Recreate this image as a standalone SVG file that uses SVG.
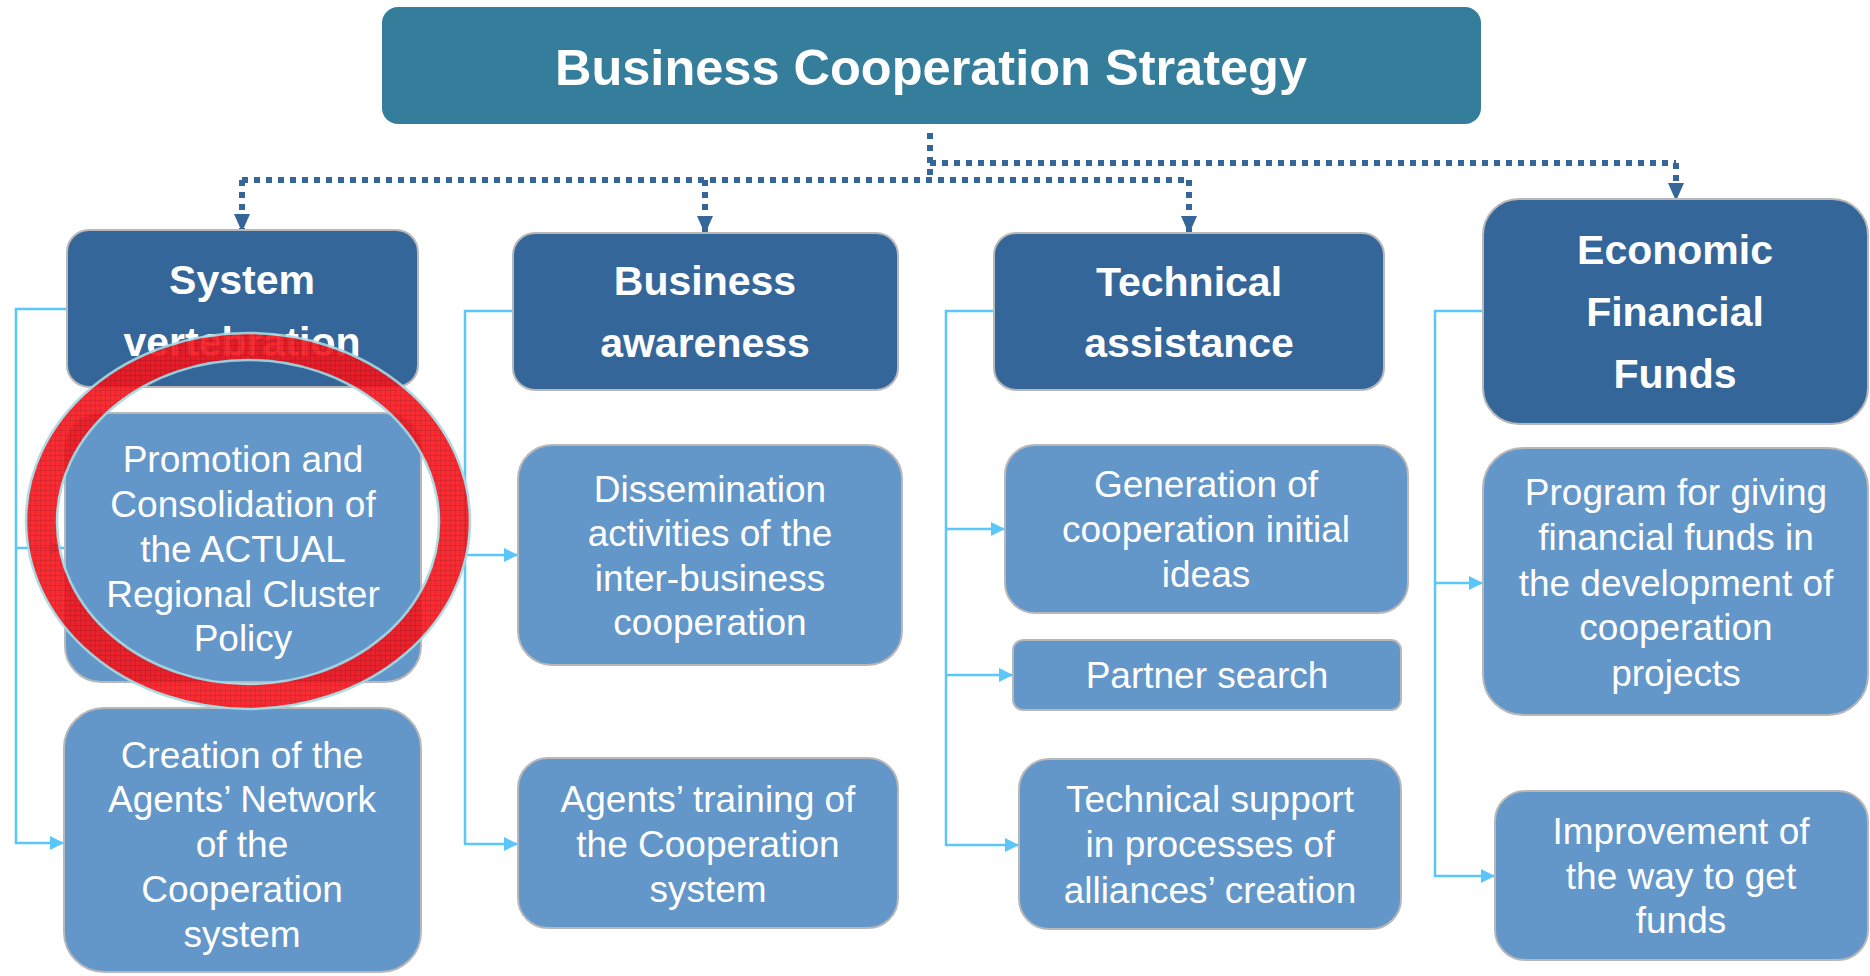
<svg xmlns="http://www.w3.org/2000/svg" width="1870" height="976" viewBox="0 0 1870 976">
<style>
.title{fill:#347E9C;}
.head{fill:#356699;stroke:#B8B8B8;stroke-width:2;}
.item{fill:#6497C9;stroke:#B8B8B8;stroke-width:2;}
.tt{font-family:"Liberation Sans",Arial,sans-serif;font-weight:bold;font-size:50.5px;fill:#fff;text-anchor:middle;}
.th{font-family:"Liberation Sans",Arial,sans-serif;font-weight:bold;font-size:41px;fill:#fff;text-anchor:middle;}
.ti{font-family:"Liberation Sans",Arial,sans-serif;font-size:37px;fill:#fff;text-anchor:middle;}
.dot{fill:none;stroke:#356699;stroke-width:6;stroke-dasharray:6 6;}
.lc{fill:none;stroke:#5BC6FA;stroke-width:2.5;}
</style>
<defs>
<marker id="ad" markerUnits="userSpaceOnUse" markerWidth="18" markerHeight="20" refX="16" refY="8" orient="auto" viewBox="0 0 18 16">
<path d="M0,0 L18,8 L0,16 Z" fill="#356699"/>
</marker>
<marker id="al" markerUnits="userSpaceOnUse" markerWidth="14" markerHeight="14" refX="14" refY="7" orient="auto" viewBox="0 0 14 14">
<path d="M0,0 L14,7 L0,14 Z" fill="#5BC6FA"/>
</marker>
<pattern id="grid" width="5" height="5" patternUnits="userSpaceOnUse">
<rect width="5" height="5" fill="#F8161C"/>
<path d="M0,0.5 H5 M0.5,0 V5" stroke="#D01218" stroke-width="0.8"/>
</pattern>
</defs>

<g id="connectors">
<path class="dot" d="M930,133 V180"/>
<path class="dot" d="M930,163 H1676"/>
<path class="dot" d="M242,180 H1189"/>
<path class="dot" d="M242,180 V230" marker-end="url(#ad)"/>
<path class="dot" d="M705,180 V232" marker-end="url(#ad)"/>
<path class="dot" d="M1189,180 V232" marker-end="url(#ad)"/>
<path class="dot" d="M1676,163 V199" marker-end="url(#ad)"/>

<path class="lc" d="M67,309 H16 V843 H64" marker-end="url(#al)"/>
<path class="lc" d="M16,548 H64" marker-end="url(#al)"/>
<path class="lc" d="M513,311 H465 V844 H518" marker-end="url(#al)"/>
<path class="lc" d="M465,555 H518" marker-end="url(#al)"/>
<path class="lc" d="M994,311 H946 V845 H1019" marker-end="url(#al)"/>
<path class="lc" d="M946,529 H1005" marker-end="url(#al)"/>
<path class="lc" d="M946,675 H1013" marker-end="url(#al)"/>
<path class="lc" d="M1483,311 H1435 V876 H1495" marker-end="url(#al)"/>
<path class="lc" d="M1435,583 H1483" marker-end="url(#al)"/>
</g>

<g id="strategy">
<rect class="title" x="382" y="7" width="1099" height="117" rx="16"/>
<text class="tt" x="931" y="85">Business Cooperation Strategy</text>
</g>

<g id="system-vertebration">
<rect class="head" x="67" y="230" width="351" height="157" rx="22"/>
<text class="th" x="242" y="294">System</text>
<text class="th" x="242" y="356">vertebration</text>
</g>
<g id="promotion">
<rect class="item" x="65" y="413" width="356" height="269" rx="36"/>
<text class="ti" x="243" y="472">Promotion and</text>
<text class="ti" x="243" y="517">Consolidation of</text>
<text class="ti" x="243" y="562">the ACTUAL</text>
<text class="ti" x="243" y="607">Regional Cluster</text>
<text class="ti" x="243" y="651">Policy</text>
</g>
<g id="creation">
<rect class="item" x="64" y="708" width="357" height="264" rx="40"/>
<text class="ti" x="242" y="768">Creation of the</text>
<text class="ti" x="242" y="812">Agents’ Network</text>
<text class="ti" x="242" y="857">of the</text>
<text class="ti" x="242" y="902">Cooperation</text>
<text class="ti" x="242" y="947">system</text>
</g>

<g id="business-awareness">
<rect class="head" x="513" y="233" width="385" height="157" rx="22"/>
<text class="th" x="705" y="295">Business</text>
<text class="th" x="705" y="357">awareness</text>
</g>
<g id="dissemination">
<rect class="item" x="518" y="445" width="384" height="220" rx="34"/>
<text class="ti" x="710" y="502">Dissemination</text>
<text class="ti" x="710" y="546">activities of the</text>
<text class="ti" x="710" y="591">inter-business</text>
<text class="ti" x="710" y="635">cooperation</text>
</g>
<g id="agents-training">
<rect class="item" x="518" y="758" width="380" height="170" rx="30"/>
<text class="ti" x="708" y="812">Agents’ training of</text>
<text class="ti" x="708" y="857">the Cooperation</text>
<text class="ti" x="708" y="902">system</text>
</g>

<g id="technical-assistance">
<rect class="head" x="994" y="233" width="390" height="157" rx="22"/>
<text class="th" x="1189" y="296">Technical</text>
<text class="th" x="1189" y="357">assistance</text>
</g>
<g id="generation">
<rect class="item" x="1005" y="445" width="403" height="168" rx="30"/>
<text class="ti" x="1206" y="497">Generation of</text>
<text class="ti" x="1206" y="542">cooperation initial</text>
<text class="ti" x="1206" y="587">ideas</text>
</g>
<g id="partner-search">
<rect class="item" x="1013" y="640" width="388" height="70" rx="10"/>
<text class="ti" x="1207" y="688">Partner search</text>
</g>
<g id="technical-support">
<rect class="item" x="1019" y="759" width="382" height="170" rx="30"/>
<text class="ti" x="1210" y="812">Technical support</text>
<text class="ti" x="1210" y="857">in processes of</text>
<text class="ti" x="1210" y="903">alliances’ creation</text>
</g>

<g id="economic-financial-funds">
<rect class="head" x="1483" y="199" width="385" height="225" rx="36"/>
<text class="th" x="1675" y="264">Economic</text>
<text class="th" x="1675" y="326">Financial</text>
<text class="th" x="1675" y="388">Funds</text>
</g>
<g id="program">
<rect class="item" x="1483" y="448" width="385" height="267" rx="40"/>
<text class="ti" x="1676" y="505">Program for giving</text>
<text class="ti" x="1676" y="550">financial funds in</text>
<text class="ti" x="1676" y="596">the development of</text>
<text class="ti" x="1676" y="640">cooperation</text>
<text class="ti" x="1676" y="686">projects</text>
</g>
<g id="improvement">
<rect class="item" x="1495" y="791" width="373" height="169" rx="30"/>
<text class="ti" x="1681" y="844">Improvement of</text>
<text class="ti" x="1681" y="889">the way to get</text>
<text class="ti" x="1681" y="933">funds</text>
</g>

<g id="highlight-ring">
<path d="M26,521 A222,188 0 1,0 470,521 A222,188 0 1,0 26,521 Z M57,522 A191,162 0 1,1 439,522 A191,162 0 1,1 57,522 Z" fill="url(#grid)" fill-rule="evenodd" opacity="0.9" stroke="#A6D8E2" stroke-width="2.5"/>
</g>
</svg>
